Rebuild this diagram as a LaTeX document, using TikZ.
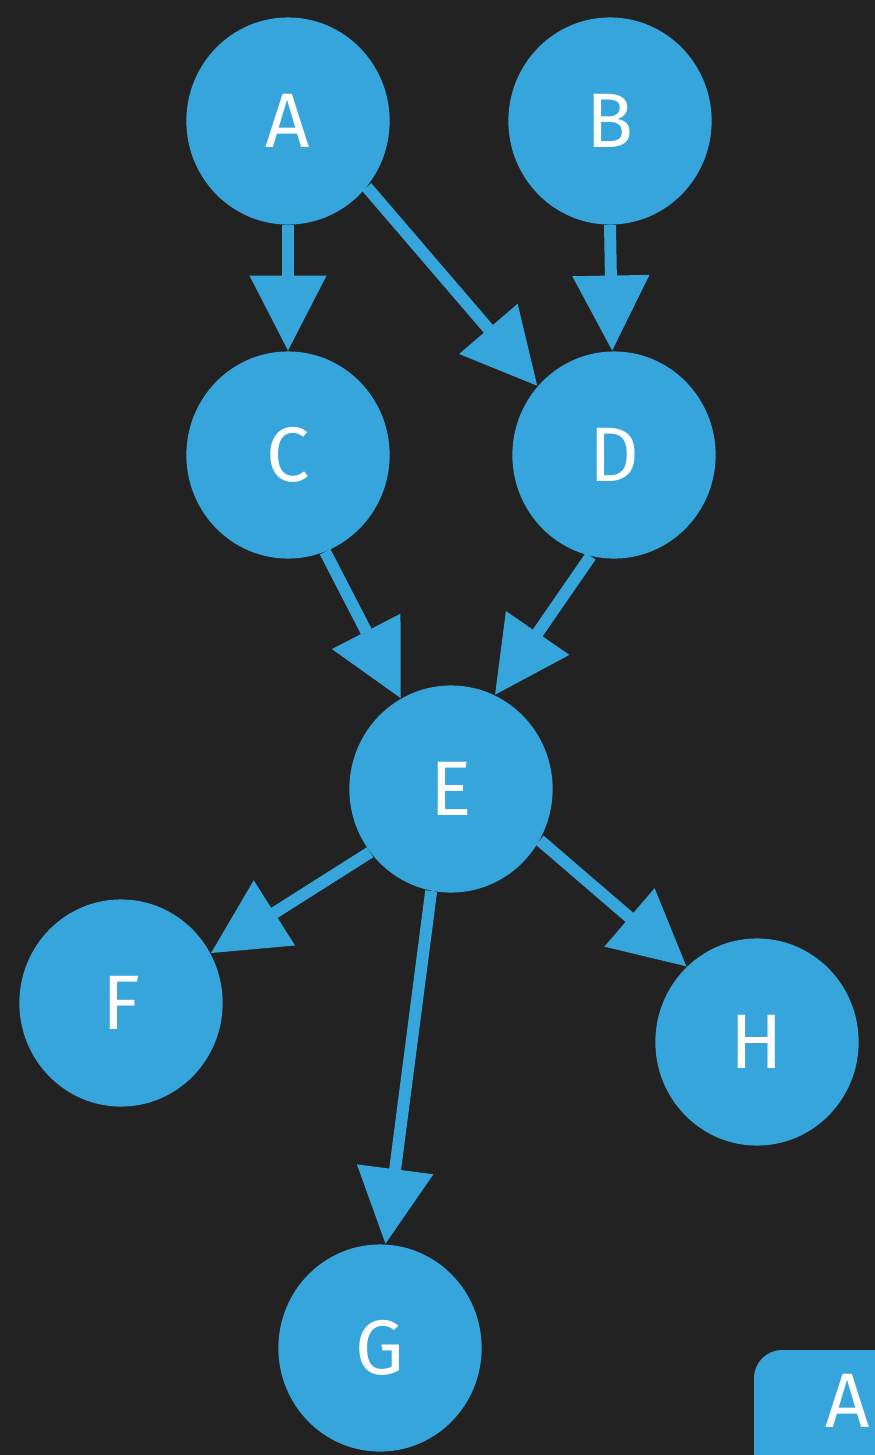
\documentclass[tikz,border=0pt]{standalone}
\usepackage{fontspec}
\setmainfont{Fira Sans}
\usetikzlibrary{shapes.geometric,arrows.meta}
\definecolor{bgdark}{HTML}{222222}
\definecolor{nodeblue}{HTML}{35A5DB}
\begin{document}
\begin{tikzpicture}[x=0.02cm,y=-0.02cm,
  vertex/.style={ellipse,fill=nodeblue,draw=none,inner sep=0pt,
    minimum width=115.7pt,minimum height=117.9pt,
    text=white,font=\fontsize{44}{44}\selectfont},
  link/.style={draw=nodeblue,line width=6.8pt,
    -{Triangle[length=43pt,width=42pt]}}]
  % canvas
  \fill[bgdark] (0,0) rectangle (875,1455);
  \clip (0,0) rectangle (875,1455);
  % graph vertices
  \node[vertex] (A) at (288,121) {A};
  \node[vertex] (B) at (610,121) {B};
  \node[vertex] (C) at (288,455) {C};
  \node[vertex] (D) at (614,455) {D};
  \node[vertex] (E) at (451,789) {E};
  \node[vertex] (F) at (121,1003) {F};
  \node[vertex] (G) at (380,1348) {G};
  \node[vertex] (H) at (757,1042) {H};
  % legend tab, partly cut off at the corner
  \fill[nodeblue,rounded corners=16pt] (754,1350) rectangle (960,1500);
  \node[text=white,font=\fontsize{44}{44}\selectfont] (legend) at (848,1401) {A};
  % edges, leaving and entering the circles at fixed angles
  \draw[link] (A.south) -- (C.north);
  \draw[link] (A.-40) -- (D.138);
  \draw[link] (B.south) -- (D.91);
  \draw[link] (C.-69) -- (E.119);
  \draw[link] (D.-103) -- (E.65);
  \draw[link] (E.-142) -- (F.29);
  \draw[link] (E.-101) -- (G.87);
  \draw[link] (E.-30) -- (H.133);
\end{tikzpicture}
\end{document}
